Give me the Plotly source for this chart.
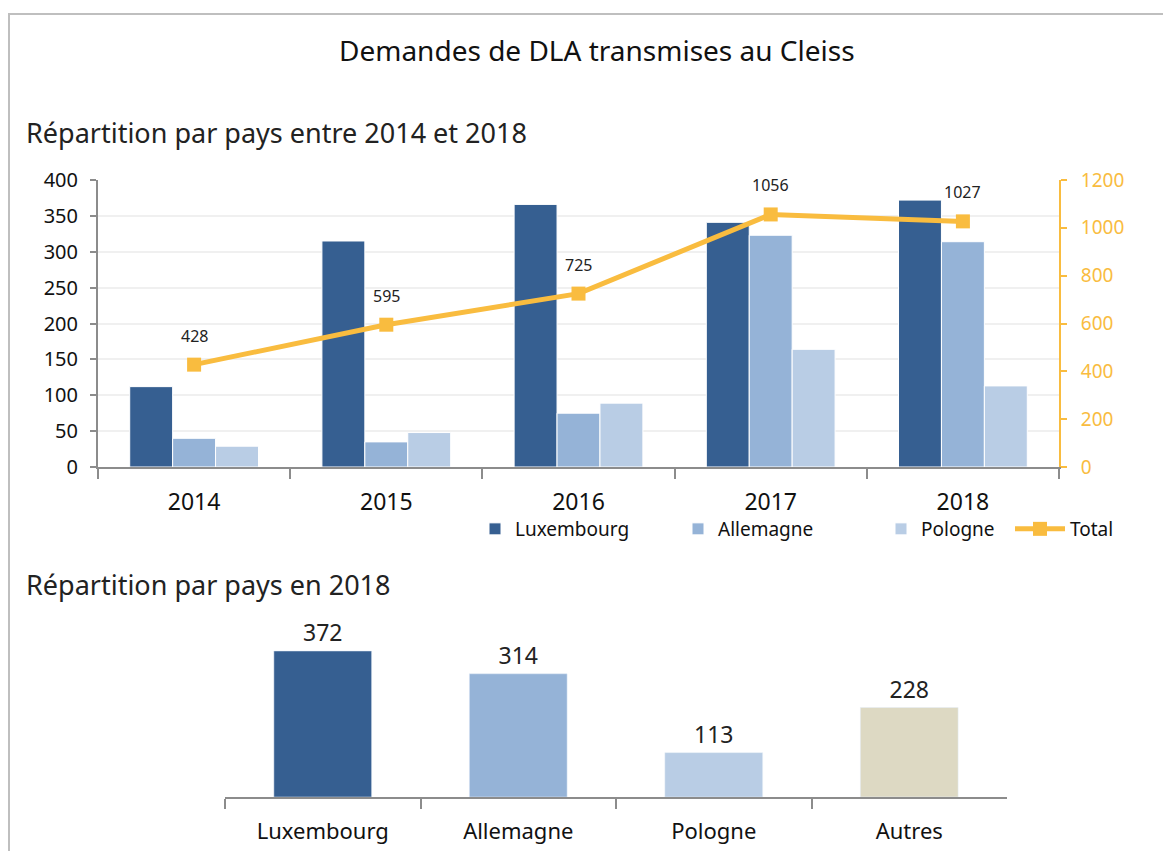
import plotly.graph_objects as go

W, H = 1171, 851
OFF = 8  # page body margin

years = ["2014", "2015", "2016", "2017", "2018"]
luxembourg = [112, 315, 366, 341, 372]
allemagne = [40, 35, 75, 323, 314]
pologne = [29, 48, 89, 164, 113]
total = [428, 595, 725, 1056, 1027]

pays_2018 = ["Luxembourg", "Allemagne", "Pologne", "Autres"]
valeurs_2018 = [372, 314, 113, 228]

C_LUX = "#365F91"
C_ALL = "#95B3D7"
C_POL = "#B9CDE5"
C_AUT = "#DDD9C3"
C_TOT = "#F9BC3F"
FONT = "Noto Sans"

def px(x):
    return (x - OFF) / W

def py(y):
    return 1 - (y - OFF) / H

fig = go.Figure()

for name, vals, col in [("Luxembourg", luxembourg, C_LUX),
                        ("Allemagne", allemagne, C_ALL),
                        ("Pologne", pologne, C_POL)]:
    fig.add_trace(go.Bar(x=years, y=vals, name=name, marker_color=col,
                         marker_line=dict(color="white", width=1),
                         xaxis="x", yaxis="y", legend="legend"))

fig.add_trace(go.Scatter(x=years, y=total, name="Total", mode="lines+markers",
                         line=dict(color=C_TOT, width=5),
                         marker=dict(symbol="square", size=14, color=C_TOT),
                         xaxis="x", yaxis="y2", legend="legend2"))

for i, t in enumerate(total):
    fig.add_annotation(x=i, y=t, xref="x", yref="y2", text=str(t), showarrow=False,
                       yshift=29, font=dict(size=16, color="#222222", family=FONT))

fig.add_trace(go.Bar(x=pays_2018, y=valeurs_2018, width=0.5,
                     marker_color=[C_LUX, C_ALL, C_POL, C_AUT],
                     text=[str(v) for v in valeurs_2018], textposition="outside",
                     textfont=dict(size=23, color="#222222", family=FONT),
                     cliponaxis=False, showlegend=False,
                     xaxis="x3", yaxis="y3"))

axis_gray = "#8C8C8C"

fig.update_layout(
    width=W, height=H,
    margin=dict(l=0, r=0, t=0, b=0),
    paper_bgcolor="white", plot_bgcolor="white",
    font=dict(family=FONT, color="#111111"),
    barmode="group", bargap=0.33, bargroupgap=0,
    xaxis=dict(domain=[px(98), px(1059)], type="category", tickson="boundaries",
               range=[-0.5, len(years) - 0.5], automargin=False,
               ticks="outside", ticklen=10, tickcolor=axis_gray, tickwidth=2,
               ticklabelstandoff=13,
               showline=True, linecolor=axis_gray, linewidth=2,
               tickfont=dict(size=23, color="#111111"), showgrid=False,
               anchor="y"),
    yaxis=dict(domain=[py(467), py(180)], range=[0, 400], dtick=50, automargin=False,
               ticks="outside", ticklen=6, tickcolor=axis_gray, tickwidth=2,
               ticklabelstandoff=8,
               showline=True, linecolor=axis_gray, linewidth=2,
               gridcolor="#F0F0F0", gridwidth=2, zeroline=False,
               tickfont=dict(size=20, color="#111111"), anchor="x"),
    yaxis2=dict(domain=[py(467), py(180)], range=[0, 1200], dtick=200, automargin=False,
                overlaying="y", side="right", anchor="x",
                ticks="outside", ticklen=6, tickcolor=C_TOT, tickwidth=2,
                ticklabelstandoff=10,
                showline=True, linecolor=C_TOT, linewidth=2, showgrid=False,
                zeroline=False, tickfont=dict(size=19, color=C_TOT)),
    xaxis3=dict(domain=[px(225), px(1007)], type="category", tickson="boundaries",
                range=[-0.5, len(pays_2018) - 0.5], automargin=False,
                ticks="outside", ticklen=10, tickcolor=axis_gray, tickwidth=2,
                ticklabelstandoff=14,
                showline=True, linecolor=axis_gray, linewidth=2, showgrid=False,
                tickfont=dict(size=22, color="#111111"), anchor="y3"),
    yaxis3=dict(domain=[py(797), py(620)], range=[0, 451], visible=False,
                anchor="x3"),
    legend=dict(orientation="h", x=px(475), xanchor="left", y=py(529), yanchor="middle",
                font=dict(size=19, color="#111111"), entrywidth=158, entrywidthmode="pixels",
                bgcolor="rgba(0,0,0,0)"),
    legend2=dict(orientation="h", x=px(1010), xanchor="left", y=py(529), yanchor="middle",
                 font=dict(size=19, color="#111111"), itemwidth=50,
                 bgcolor="rgba(0,0,0,0)"),
    shapes=[dict(type="rect", xref="paper", yref="paper",
                 x0=px(9), x1=px(1200), y0=py(900), y1=py(14),
                 line=dict(color="#BFBFBF", width=2), fillcolor="rgba(0,0,0,0)")],
)

fig.add_annotation(xref="paper", yref="paper", x=px(597), y=py(50), text="Demandes de DLA transmises au Cleiss",
                   showarrow=False, xanchor="center", yanchor="middle",
                   font=dict(size=28, color="#111111", family=FONT))
fig.add_annotation(xref="paper", yref="paper", x=px(24), y=py(133), text="Répartition par pays entre 2014 et 2018",
                   showarrow=False, xanchor="left", yanchor="middle",
                   font=dict(size=27, color="#222222", family=FONT))
fig.add_annotation(xref="paper", yref="paper", x=px(24), y=py(584), text="Répartition par pays en 2018",
                   showarrow=False, xanchor="left", yanchor="middle",
                   font=dict(size=27, color="#222222", family=FONT))

fig.write_html("out.html")
